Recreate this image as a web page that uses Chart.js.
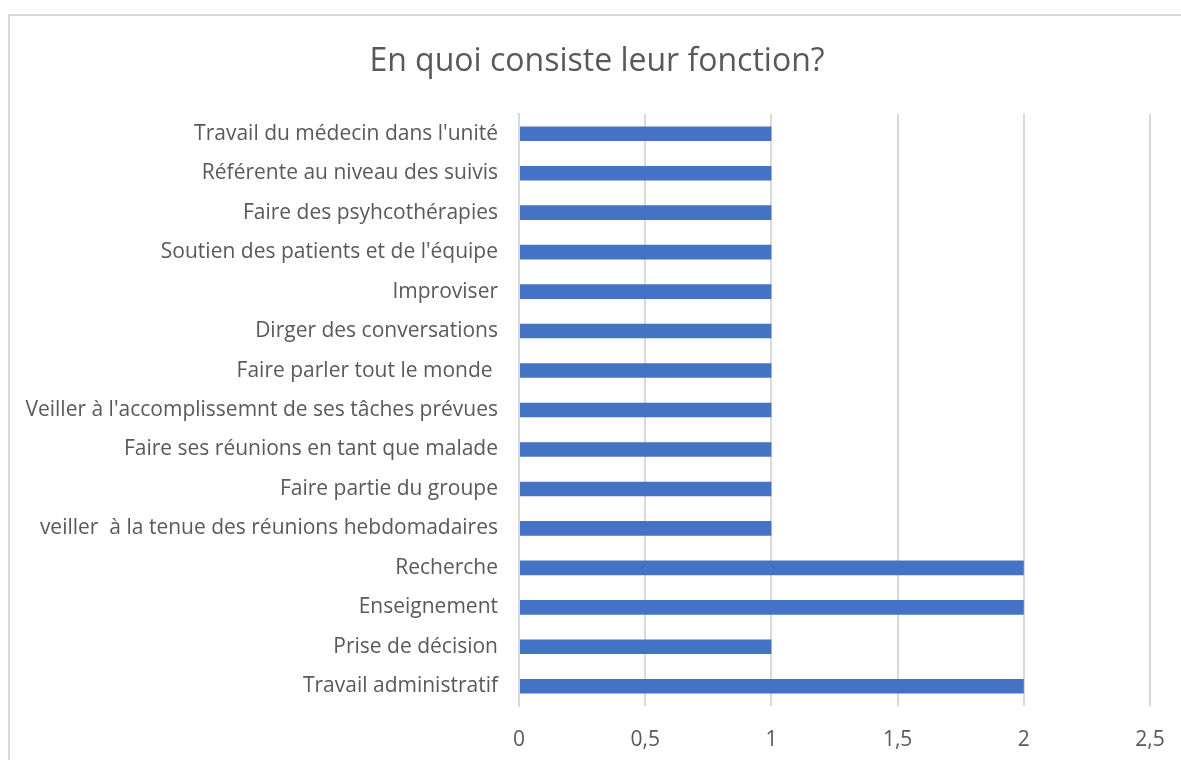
<!DOCTYPE html>
<html>
<head>
<meta charset="utf-8">
<script src="https://cdn.jsdelivr.net/npm/chart.js@4/dist/chart.umd.min.js"></script>
<style>
  html, body { margin: 0; padding: 0; background: #ffffff; }
  body { width: 1181px; height: 760px; overflow: hidden; position: relative; }
  #frame {
    position: absolute; left: 8px; top: 14px; width: 1300px; height: 900px;
    border: 2px solid #d9d9d9; box-sizing: border-box;
  }
  #wrap { position: absolute; left: 0; top: 0; width: 1181px; height: 760px; }
</style>
</head>
<body>
<div id="frame"></div>
<div id="wrap"><canvas id="c"></canvas></div>
<script>
const chartTitle = "En quoi consiste leur fonction?";

const categories = [
  "Travail du médecin dans l'unité",
  "Référente au niveau des suivis",
  "Faire des psyhcothérapies",
  "Soutien des patients et de l'équipe",
  "Improviser",
  "Dirger des conversations",
  "Faire parler tout le monde ",
  "Veiller à l'accomplissemnt de ses tâches prévues",
  "Faire ses réunions en tant que malade",
  "Faire partie du groupe",
  "veiller  à la tenue des réunions hebdomadaires",
  "Recherche",
  "Enseignement",
  "Prise de décision",
  "Travail administratif"
];

const counts = [1, 1, 1, 1, 1, 1, 1, 1, 1, 1, 1, 2, 2, 1, 2];

const xTicks = [0, 0.5, 1, 1.5, 2, 2.5];

const textColor = "#595959";
const gridColor = "#d9d9d9";
const fontFamily = "'Open Sans', 'Noto Sans', sans-serif";

const padLeft = 0;
const padRight = 31;
const yAxisWidth = 519;

// The title is centred over the region to the right of the frame's inner margin.
const titleOffset = {
  id: "titleOffset",
  afterLayout(chart) {
    if (chart.titleBlock) {
      chart.titleBlock.left += 44;
    }
  }
};

new Chart(document.getElementById("c"), {
  type: "bar",
  data: {
    labels: categories,
    datasets: [{
      data: counts,
      backgroundColor: "#4472C4",
      borderWidth: 0,
      barPercentage: 0.37,
      categoryPercentage: 1
    }]
  },
  plugins: [titleOffset],
  options: {
    indexAxis: "y",
    responsive: true,
    maintainAspectRatio: false,
    animation: false,
    layout: { padding: { left: padLeft, right: padRight, top: 0, bottom: 0 } },
    plugins: {
      legend: { display: false },
      tooltip: { enabled: false },
      title: {
        display: true,
        text: chartTitle,
        color: textColor,
        font: { family: fontFamily, size: 32, weight: "normal", lineHeight: 1.2 },
        padding: { top: 43, bottom: 32.6 }
      }
    },
    scales: {
      x: {
        min: 0,
        max: 2.5,
        afterBuildTicks: (scale) => { scale.ticks = xTicks.map(v => ({ value: v })); },
        afterFit: (scale) => {
          scale.height = 54;
          scale.paddingLeft = 0;
          scale.paddingRight = 0;
        },
        grid: { color: gridColor, lineWidth: 2, drawTicks: false },
        border: { display: false },
        ticks: {
          color: textColor,
          font: { family: fontFamily, size: 21 },
          padding: 21,
          maxRotation: 0,
          callback: (v) => String(v).replace(".", ",")
        }
      },
      y: {
        afterFit: (scale) => { scale.width = yAxisWidth - padLeft; },
        grid: { display: false, drawTicks: false },
        border: { display: true, color: gridColor, width: 2 },
        ticks: {
          color: textColor,
          font: { family: fontFamily, size: 21 },
          padding: 21,
          autoSkip: false
        }
      }
    }
  }
});
</script>
</body>
</html>
